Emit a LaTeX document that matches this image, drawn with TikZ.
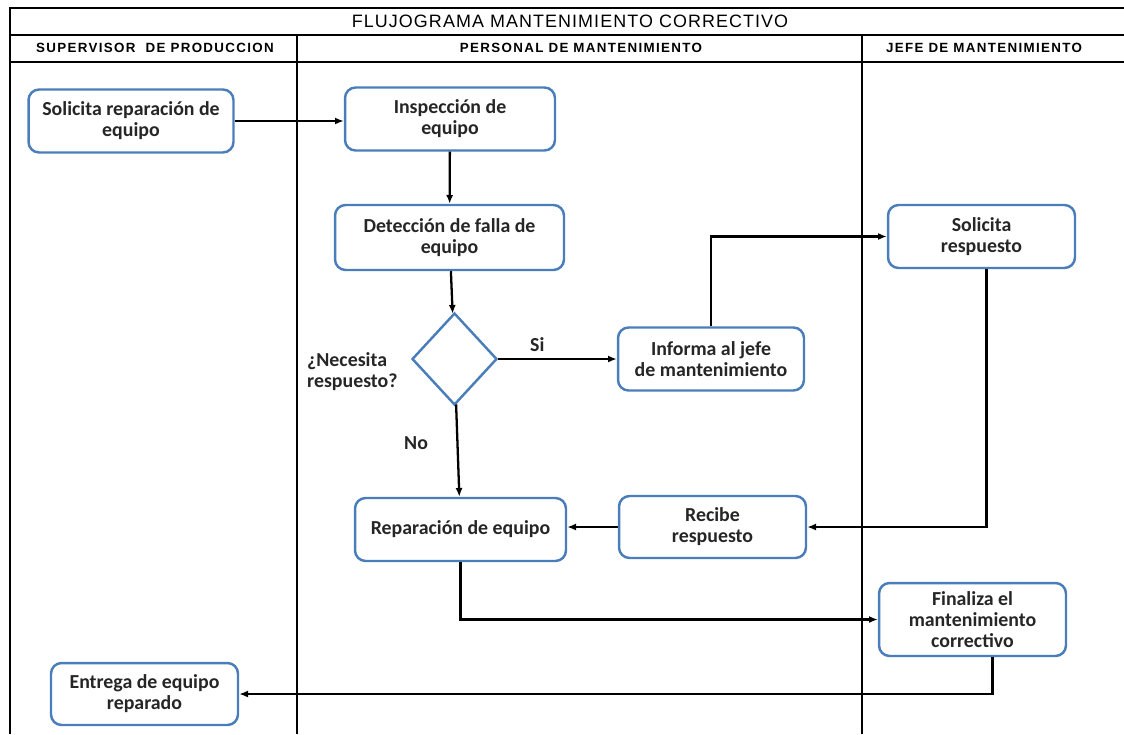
\documentclass[tikz,border=0pt]{standalone}
\usepackage{fontspec}
\setmainfont{Carlito}
\newfontfamily\headfont{Liberation Sans}[LetterSpace=10]
\newfontfamily\titlefont{Liberation Sans}[LetterSpace=6]
\usetikzlibrary{positioning, arrows.meta, shapes.geometric, calc}

\definecolor{boxblue}{RGB}{74,126,187}

\begin{document}
\begin{tikzpicture}[
    x=0.02cm, y=-0.02cm,
    frame_line/.style = {line width=1.3pt, black},
    lane_line/.style = {line width=0.8pt, black},
    lane_head/.style = {font=\headfont\fontsize{7.6}{8}\selectfont\bfseries},
    proc_box/.style = {draw=boxblue, line width=1.4pt, rounded corners=6pt, fill=white, align=center,
        font=\fontsize{11.3}{12}\selectfont\bfseries, text=black!85},
    dec_box/.style = {draw=boxblue, line width=1.4pt, diamond, inner sep=0pt, minimum width=1.7cm, minimum height=1.84cm},
    flow/.style = {-{Latex[length=5pt, width=4pt]}, line width=1.3pt, black},
    flow_label/.style = {font=\fontsize{11.3}{12}\selectfont\bfseries, text=black!85, align=left}
]
\useasboundingbox (0,0) rectangle (1124,734);

% --- Marco y carriles ---
\draw[frame_line] (10,734) -- (10,8) -- (1124,8);
\draw[frame_line] (10,35) -- (1124,35);
\draw[frame_line] (10,62) -- (1124,62);
\draw[lane_line] (297,35) -- (297,734);
\draw[lane_line] (862,35) -- (862,734);

\node[font=\titlefont\fontsize{10.2}{11}\selectfont] (title) at (570,21) {FLUJOGRAMA MANTENIMIENTO CORRECTIVO};
\node[lane_head] (head_sup) at (155,48) {SUPERVISOR\ \ DE PRODUCCION};
\node[lane_head] (head_per) at (581,48) {PERSONAL DE MANTENIMIENTO};
\node[lane_head] (head_jef) at (984,48) {JEFE DE MANTENIMIENTO};

% --- Supervisor de produccion ---
\node[proc_box, minimum width=4.1cm, minimum height=1.26cm] (sol_rep) at (131,121) {Solicita reparación de\\equipo};
\node[proc_box, minimum width=3.74cm, minimum height=1.24cm] (ent) at (144.5,694) {Entrega de equipo\\reparado};

% --- Personal de mantenimiento ---
\node[proc_box, minimum width=4.2cm, minimum height=1.26cm] (insp) at (450,119) {Inspección de\\equipo};
\node[proc_box, minimum width=4.58cm, minimum height=1.3cm] (det) at (449.5,237.5) {Detección de falla de\\equipo};
\node[dec_box] (dec) at (454.5,359) {};
\node[flow_label, anchor=west] (q_label) at (301,372) {¿Necesita\\respuesto?};
\node[proc_box, minimum width=3.72cm, minimum height=1.26cm] (inf) at (711,359) {Informa al jefe\\de mantenimiento};
\node[proc_box, minimum width=4.22cm, minimum height=1.26cm] (rep) at (460.5,529.5) {Reparación de equipo};
\node[proc_box, minimum width=3.74cm, minimum height=1.24cm] (rec) at (712.5,527) {Recibe\\respuesto};

% --- Jefe de mantenimiento ---
\node[proc_box, minimum width=3.74cm, minimum height=1.26cm] (sol_resp) at (981.5,236.5) {Solicita\\respuesto};
\node[proc_box, minimum width=3.74cm, minimum height=1.46cm] (fin) at (972.5,619.5) {Finaliza el\\mantenimiento\\correctivo};

% --- Conectores ---
\draw[flow] (sol_rep.east) -- (sol_rep.east -| insp.west);
\draw[flow] (insp) -- (det);
\draw[flow] (det) -- (dec);
\draw[flow] (dec) -- node[flow_label, above, pos=0.33] (si_label) {Si} (inf);
\draw[flow] (inf.north) |- (sol_resp.west);
\draw[flow] ([xshift=0.1cm]sol_resp.south) |- (rec.east);
\draw[flow] (rec.west) -- (rec.west -| rep.east);
\draw[flow] (dec) -- node[flow_label, left=0.45cm, pos=0.42] (no_label) {No} (rep);
\draw[flow] (rep.south) |- (fin.west);
\draw[flow] ([xshift=0.4cm]fin.south) |- (ent.east);

\end{tikzpicture}
\end{document}
